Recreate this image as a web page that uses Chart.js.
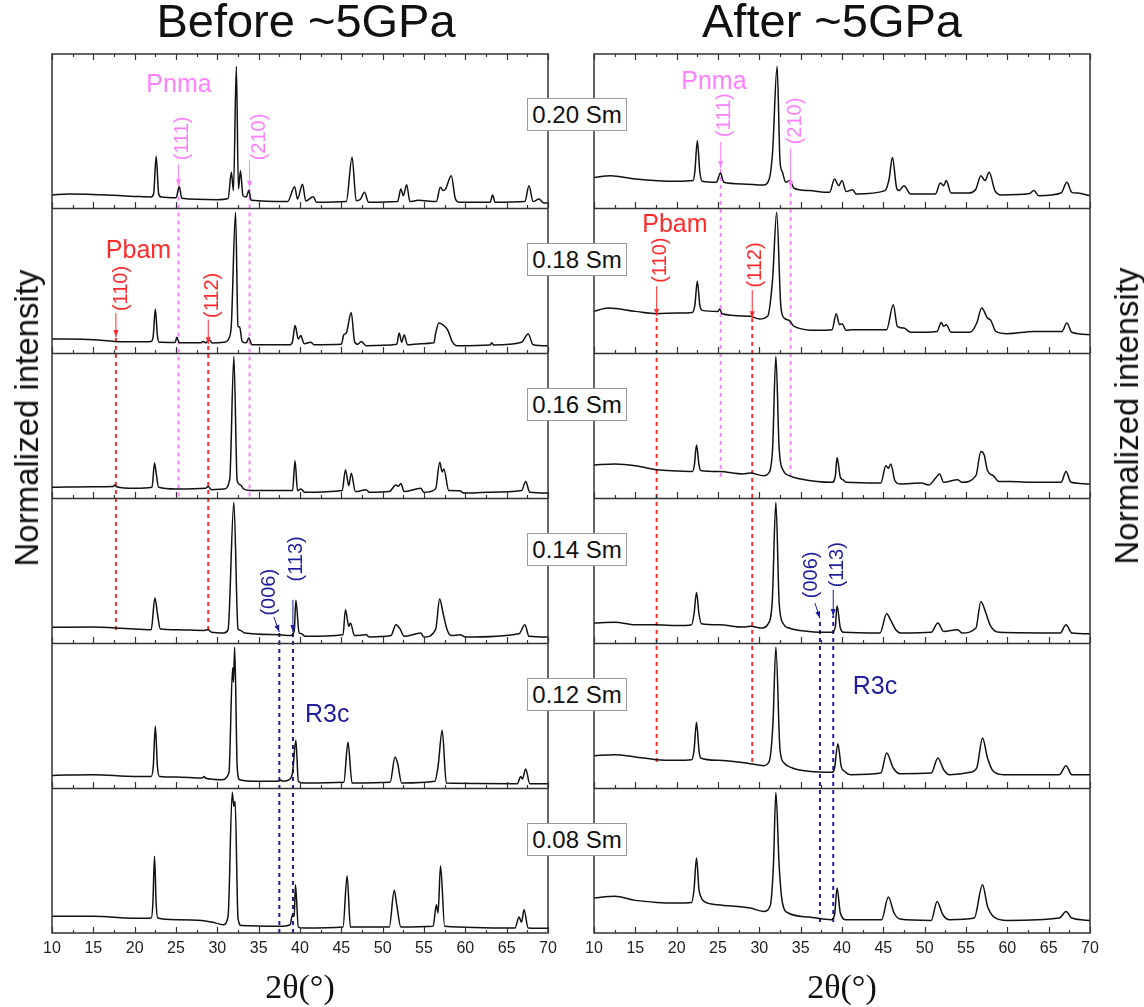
<!DOCTYPE html>
<html>
<head>
<meta charset="utf-8">
<script src="https://cdn.jsdelivr.net/npm/chart.js@4.4.0/dist/chart.umd.min.js"></script>
<style>
  body { margin: 0; background: #fff; width: 1144px; height: 1007px; position: relative; overflow: hidden;
         font-family: 'Liberation Sans', Arial, sans-serif; color: #111; }
  canvas { position: absolute; top: 0; }
  #before { left: 0; }
  #after { left: 572px; }
  .title { position: absolute; top: -3px; font-size: 47px; line-height: 47px; white-space: nowrap; transform: translateX(-50%); }
  .ytitle { position: absolute; font-size: 33px; white-space: nowrap; transform: translate(-50%, -50%) rotate(-90deg); }
  .xtitle { position: absolute; font-family: 'Liberation Serif', 'DejaVu Serif', serif; font-size: 34px; white-space: nowrap; transform: translate(-50%, -50%); }
  .box { position: absolute; left: 527px; width: 100px; height: 33px; box-sizing: border-box; border: 1px solid #9a9a9a;
         background: #fff; font-size: 24px; line-height: 31px; text-align: center; white-space: nowrap; z-index: 2; }
</style>
</head>
<body>
<canvas id="before" width="572" height="1007"></canvas>
<canvas id="after" width="572" height="1007"></canvas>
<div class="title" style="left:306px">Before ~5GPa</div>
<div class="title" style="left:832px">After ~5GPa</div>
<div class="ytitle" style="left:27px; top:418px">Normalized intensity</div>
<div class="ytitle" style="left:1127px; top:416px">Normalized intensity</div>
<div class="xtitle" style="left:300px; top:987px">2θ(°)</div>
<div class="xtitle" style="left:842px; top:987px">2θ(°)</div>
<div id="boxes"></div>

<script>
// sample labels, top band first
const samples = ['0.20 Sm', '0.18 Sm', '0.16 Sm', '0.14 Sm', '0.12 Sm', '0.08 Sm'];
const xTicks = [10, 15, 20, 25, 30, 35, 40, 45, 50, 55, 60, 65, 70];

// patterns: [2theta, intensity within its band]
const before020 = [[10,0.09],[12,0.097],[20,0.08],[22,0.076],[22.3,0.1],[22.6,0.356],[22.9,0.1],[23.2,0.076],[25,0.071],[25.4,0.149],[25.7,0.067],[30,0.057],[31.3,0.065],[31.7,0.246],[31.95,0.12],[32.3,0.977],[32.55,0.131],[32.8,0.257],[33.1,0.085],[33.5,0.075],[33.8,0.12],[34.1,0.053],[38.5,0.044],[39.35,0.147],[39.7,0.062],[40.3,0.163],[40.7,0.048],[41.6,0.078],[42,0.039],[45.6,0.044],[46.3,0.35],[46.8,0.05],[47.3,0.06],[47.8,0.108],[48.3,0.039],[51.8,0.044],[52.2,0.131],[52.5,0.085],[52.9,0.161],[53.3,0.044],[54.3,0.053],[56.5,0.044],[56.97,0.143],[57.3,0.12],[57.6,0.13],[58.3,0.223],[58.8,0.062],[59.3,0.039],[63,0.04],[63.3,0.09],[63.6,0.039],[67.2,0.044],[67.7,0.154],[68.2,0.044],[68.9,0.062],[69.5,0.034],[70,0.034]];
const before018 = [[10,0.097],[15,0.092],[17.6,0.08],[20,0.078],[22,0.08],[22.25,0.12],[22.5,0.303],[22.75,0.12],[23,0.074],[24.9,0.073],[25.1,0.108],[25.4,0.07],[28,0.07],[28.3,0.08],[28.6,0.07],[29,0.092],[29.4,0.069],[30.8,0.074],[31.4,0.1],[31.7,0.2],[32.2,0.97],[32.5,0.184],[32.7,0.179],[33,0.08],[33.5,0.07],[33.8,0.103],[34.2,0.057],[38.8,0.057],[39.1,0.08],[39.4,0.189],[39.8,0.097],[40.1,0.12],[40.5,0.064],[41.3,0.074],[41.7,0.057],[45,0.06],[45.3,0.126],[45.6,0.138],[46.2,0.28],[46.6,0.08],[47,0.06],[47.4,0.08],[48,0.05],[51.7,0.06],[52,0.138],[52.3,0.074],[52.6,0.124],[53,0.057],[54.6,0.064],[56.2,0.07],[56.4,0.133],[56.8,0.207],[57.5,0.184],[57.9,0.154],[58.4,0.08],[59,0.05],[63,0.055],[63.2,0.07],[63.4,0.055],[66.8,0.074],[67.6,0.131],[68.2,0.057],[70,0.05]];
const before016 = [[10,0.074],[15,0.078],[17.4,0.08],[17.6,0.09],[17.8,0.078],[20,0.067],[22.1,0.074],[22.4,0.241],[22.6,0.172],[22.9,0.074],[25,0.062],[28.6,0.067],[28.9,0.08],[29.3,0.057],[30.8,0.062],[31.5,0.13],[32,0.977],[32.4,0.12],[32.8,0.09],[33.2,0.062],[34,0.051],[39.1,0.051],[39.4,0.257],[39.7,0.051],[40.1,0.062],[40.6,0.039],[45.1,0.051],[45.5,0.195],[45.9,0.085],[46.2,0.17],[46.7,0.044],[48,0.057],[48.4,0.039],[50.8,0.044],[51.6,0.09],[51.9,0.081],[52.2,0.1],[52.6,0.044],[54.6,0.067],[55,0.039],[56.4,0.062],[56.9,0.246],[57.2,0.18],[57.4,0.2],[58,0.051],[59.3,0.05],[59.8,0.034],[62.9,0.039],[66.8,0.051],[67.3,0.113],[67.8,0.039],[70,0.034]];
const before014 = [[10,0.108],[15,0.11],[17.6,0.104],[20,0.097],[22,0.092],[22.45,0.31],[22.8,0.184],[23.1,0.097],[25,0.092],[28.4,0.087],[28.9,0.092],[29.3,0.074],[30.8,0.069],[31.3,0.092],[32,0.97],[32.5,0.097],[32.8,0.087],[33.3,0.069],[37.5,0.057],[38.8,0.051],[39.3,0.08],[39.5,0.294],[39.9,0.069],[40.2,0.064],[40.6,0.046],[45.2,0.057],[45.5,0.23],[45.9,0.115],[46.1,0.138],[46.6,0.051],[48,0.057],[48.4,0.041],[51,0.051],[51.6,0.126],[52.1,0.097],[52.6,0.046],[54.6,0.069],[55,0.041],[56.4,0.092],[56.9,0.303],[57.3,0.207],[57.8,0.092],[58.3,0.051],[59.4,0.057],[60,0.041],[66.5,0.064],[67.2,0.126],[67.7,0.046],[70,0.041]];
const before012 = [[10,0.087],[15,0.092],[20,0.08],[22,0.08],[22.25,0.15],[22.5,0.425],[22.75,0.15],[23,0.08],[25,0.076],[28.2,0.069],[28.4,0.08],[28.6,0.067],[30.5,0.057],[31.4,0.103],[31.85,0.83],[31.95,0.73],[32.1,0.97],[32.4,0.15],[32.7,0.057],[35,0.046],[37.5,0.048],[37.7,0.055],[37.9,0.046],[38.8,0.062],[39.1,0.108],[39.5,0.329],[39.8,0.046],[40.5,0.034],[45.3,0.039],[45.8,0.315],[46.3,0.034],[50.9,0.039],[51.5,0.214],[51.8,0.172],[52.3,0.034],[56.3,0.046],[56.7,0.149],[57.2,0.398],[57.7,0.034],[66.3,0.03],[66.7,0.08],[66.9,0.062],[67.3,0.131],[67.8,0.03],[70,0.03]];
const before008 = [[10,0.115],[15,0.115],[20,0.101],[22,0.103],[22.2,0.2],[22.4,0.529],[22.6,0.2],[22.8,0.103],[25,0.092],[28.1,0.087],[29.5,0.074],[30.7,0.057],[31.3,0.115],[31.8,0.97],[32,0.874],[32.15,0.908],[32.5,0.103],[32.9,0.051],[37.5,0.046],[38.8,0.057],[39.1,0.126],[39.3,0.115],[39.45,0.333],[39.8,0.041],[40.5,0.034],[45.2,0.041],[45.7,0.395],[46.1,0.041],[50.8,0.041],[51.4,0.294],[51.7,0.195],[52.2,0.041],[56.1,0.046],[56.5,0.195],[56.7,0.138],[57,0.464],[57.5,0.046],[66,0.034],[66.5,0.11],[66.8,0.074],[67.1,0.161],[67.6,0.034],[70,0.032]];

const after020 = [[10,0.211],[12,0.223],[15,0.2],[20,0.184],[22,0.189],[22.2,0.25],[22.5,0.464],[22.8,0.25],[23.1,0.184],[24.8,0.177],[25.3,0.241],[25.7,0.177],[28,0.166],[30.5,0.159],[31.2,0.2],[31.6,0.384],[32.15,0.977],[32.5,0.326],[32.8,0.246],[33.2,0.177],[33.7,0.189],[34.2,0.136],[36,0.12],[38.5,0.108],[39.1,0.2],[39.6,0.154],[40,0.189],[40.5,0.113],[41.3,0.126],[41.7,0.097],[45.2,0.12],[45.7,0.2],[46.1,0.349],[46.6,0.14],[46.9,0.12],[47.5,0.154],[48.3,0.097],[51.3,0.097],[51.9,0.172],[52.3,0.154],[52.6,0.189],[53.2,0.103],[55.3,0.103],[56.2,0.131],[56.8,0.223],[57.3,0.189],[57.8,0.246],[58.5,0.12],[59.3,0.09],[62.7,0.1],[63.2,0.12],[63.8,0.085],[66.5,0.103],[67.2,0.177],[67.8,0.108],[68.5,0.103],[70,0.085]];
const after018 = [[10,0.287],[11.7,0.31],[15,0.287],[17.6,0.271],[20,0.276],[21.9,0.28],[22.2,0.33],[22.5,0.494],[22.8,0.33],[23.1,0.294],[25,0.287],[25.2,0.303],[25.5,0.271],[28.9,0.253],[30,0.234],[31,0.253],[31.6,0.506],[32.1,0.97],[32.6,0.322],[33,0.241],[33.6,0.225],[34.2,0.184],[37,0.156],[38.8,0.161],[39.3,0.271],[39.7,0.195],[40,0.202],[40.5,0.156],[41.2,0.161],[45.4,0.161],[46.2,0.333],[46.7,0.184],[47.5,0.172],[48.3,0.143],[51.5,0.149],[52,0.211],[52.3,0.184],[52.6,0.195],[53.2,0.143],[55.5,0.143],[56.3,0.207],[56.9,0.31],[57.6,0.241],[58,0.225],[58.6,0.149],[60,0.133],[63.2,0.149],[66.6,0.149],[67.2,0.207],[67.8,0.143],[70,0.126]];
const after016 = [[10,0.228],[12.5,0.234],[15,0.223],[17.6,0.195],[20,0.186],[21.9,0.182],[22.15,0.23],[22.4,0.366],[22.7,0.23],[22.9,0.189],[25.2,0.182],[28,0.166],[28.9,0.172],[30.5,0.154],[31.2,0.177],[31.6,0.338],[32,0.977],[32.4,0.338],[32.9,0.189],[33.6,0.154],[35,0.131],[38.8,0.108],[39.2,0.154],[39.4,0.28],[39.8,0.143],[40.1,0.126],[40.5,0.108],[44.7,0.103],[45.3,0.223],[45.6,0.205],[45.9,0.234],[46.4,0.119],[47,0.097],[49.6,0.103],[50.5,0.09],[51.4,0.143],[51.8,0.166],[52.3,0.108],[54,0.126],[54.5,0.108],[56.2,0.154],[56.8,0.32],[57.2,0.297],[57.6,0.189],[58.3,0.154],[59,0.113],[60.3,0.113],[63.4,0.108],[66.5,0.108],[67.1,0.182],[67.7,0.108],[70,0.097]];
const after014 = [[10,0.138],[12.5,0.143],[15,0.126],[17.6,0.126],[20,0.12],[21.8,0.126],[22.1,0.2],[22.4,0.349],[22.7,0.2],[23,0.133],[25.2,0.126],[28,0.11],[28.9,0.115],[30.4,0.103],[31,0.126],[31.55,0.276],[32,0.97],[32.4,0.276],[32.9,0.133],[33.6,0.103],[36,0.08],[38.8,0.074],[39.2,0.115],[39.4,0.257],[39.8,0.103],[40.2,0.074],[44.6,0.069],[45.4,0.202],[45.9,0.156],[46.5,0.092],[47.2,0.069],[50.8,0.074],[51.6,0.138],[52.3,0.08],[54,0.092],[54.5,0.069],[56.2,0.103],[56.8,0.287],[57.4,0.207],[58,0.115],[59,0.074],[66.4,0.069],[67.1,0.126],[67.8,0.069],[70,0.064]];
const after012 = [[10,0.223],[12.5,0.23],[15,0.214],[17.6,0.195],[20,0.191],[21.8,0.195],[22.1,0.26],[22.4,0.453],[22.7,0.26],[22.9,0.207],[25,0.191],[28.9,0.168],[30.5,0.154],[31.2,0.184],[31.65,0.448],[32,0.972],[32.5,0.264],[33,0.172],[34,0.138],[36,0.115],[38.8,0.108],[39.1,0.138],[39.5,0.306],[39.9,0.149],[40.3,0.115],[41,0.092],[44.7,0.103],[45.4,0.241],[46.2,0.138],[47,0.099],[50.8,0.103],[51.6,0.207],[52.3,0.126],[53,0.092],[55.5,0.108],[56.3,0.138],[57,0.345],[57.6,0.207],[58.3,0.115],[59.5,0.092],[66.3,0.092],[67.1,0.154],[67.8,0.092],[70,0.092]];
const after008 = [[10,0.241],[12.5,0.253],[15,0.225],[17.6,0.211],[20,0.207],[21.8,0.211],[22.1,0.3],[22.4,0.517],[22.7,0.3],[22.9,0.253],[23.3,0.218],[25,0.195],[28.9,0.172],[30.5,0.149],[31.3,0.184],[31.7,0.46],[32,0.97],[32.4,0.46],[32.8,0.207],[33.5,0.138],[36,0.11],[38.7,0.092],[39.1,0.126],[39.4,0.31],[39.8,0.138],[40.5,0.092],[44.8,0.092],[45.6,0.248],[46.3,0.138],[47,0.097],[50.8,0.087],[51.5,0.218],[52.2,0.126],[53,0.092],[56,0.103],[57,0.333],[57.6,0.184],[58.4,0.11],[60,0.087],[66.3,0.103],[67.1,0.149],[67.8,0.103],[70,0.087]];

// reflection markers: 2theta and the band-stack span [from, to] of the dashed guide
const beforeRefs = [
  { phase: 'Pnma', x: 25.3, span: [3.01, 5.15] },
  { phase: 'Pnma', x: 33.9, span: [3.01, 5.14] },
  { phase: 'Pbam', x: 17.73, span: [2.09, 4.11] },
  { phase: 'Pbam', x: 28.9, span: [2.09, 4.06] },
  { phase: 'R3c', x: 37.5, span: [0, 2.076] },
  { phase: 'R3c', x: 39.15, span: [0, 2.076] }
];
const afterRefs = [
  { phase: 'Pnma', x: 25.32, span: [3.145, 5.276] },
  { phase: 'Pnma', x: 33.78, span: [3.145, 5.14] },
  { phase: 'Pbam', x: 17.58, span: [1.18, 4.255] },
  { phase: 'Pbam', x: 29.14, span: [1.18, 4.24] },
  { phase: 'R3c', x: 37.33, span: [0.076, 2.17] },
  { phase: 'R3c', x: 38.94, span: [0.076, 2.186] }
];

// text annotations (in axis units)
const beforeNotes = [
  { phase: 'Pnma', text: 'Pnma', x: 25.36, y: 5.85 },
  { phase: 'Pbam', text: 'Pbam', x: 20.46, y: 4.70 },
  { phase: 'R3c', text: 'R3c', x: 43.3, y: 1.50 },
  { phase: 'Pnma', text: '(111)', x: 25.84, y: 5.48, from: [25.3, 5.30], to: [25.3, 5.15] },
  { phase: 'Pnma', text: '(210)', x: 35.13, y: 5.49, from: [33.9, 5.33], to: [33.9, 5.14] },
  { phase: 'Pbam', text: '(110)', x: 18.36, y: 4.445, from: [17.73, 4.276], to: [17.73, 4.11] },
  { phase: 'Pbam', text: '(112)', x: 29.37, y: 4.397, from: [28.9, 4.23], to: [28.9, 4.06] },
  { phase: 'R3c', text: '(006)', x: 36.36, y: 2.35, from: [36.84, 2.18], to: [37.48, 2.076] },
  { phase: 'R3c', text: '(113)', x: 39.58, y: 2.58, from: [39.14, 2.297], to: [39.14, 2.076] }
];
const afterNotes = [
  { phase: 'Pnma', text: 'Pnma', x: 24.51, y: 5.87 },
  { phase: 'Pbam', text: 'Pbam', x: 19.79, y: 4.88 },
  { phase: 'R3c', text: 'R3c', x: 43.98, y: 1.697 },
  { phase: 'Pnma', text: '(111)', x: 25.74, y: 5.64, from: [25.32, 5.455], to: [25.32, 5.276] },
  { phase: 'Pnma', text: '(210)', x: 34.4, y: 5.60, from: [33.78, 5.41], to: [33.78, 5.14] },
  { phase: 'Pbam', text: '(110)', x: 18.08, y: 4.64, from: [17.58, 4.46], to: [17.58, 4.255] },
  { phase: 'Pbam', text: '(112)', x: 29.5, y: 4.607, from: [29.14, 4.434], to: [29.14, 4.24] },
  { phase: 'R3c', text: '(006)', x: 36.32, y: 2.47, from: [36.72, 2.276], to: [37.33, 2.17] },
  { phase: 'R3c', text: '(113)', x: 39.5, y: 2.54, from: [38.94, 2.366], to: [38.94, 2.186] }
];

const phaseColors = { Pnma: '#ff80ff', Pbam: '#ff2a2a', R3c: '#1f1f9c' };
const FONT = "'Liberation Sans', Arial, sans-serif";
const YMAX = 6.062;   // top band is a bit taller than the others

// frame, band separators and inward ticks
const framePlugin = {
  id: 'frame',
  afterDatasetsDraw(chart) {
    const { ctx, chartArea: a, scales: { x, y } } = chart;
    ctx.save();
    ctx.strokeStyle = '#333';
    ctx.lineWidth = 1.5;
    ctx.strokeRect(a.left, a.top, a.right - a.left, a.bottom - a.top);
    ctx.beginPath();
    for (let b = 1; b < samples.length; b++) {
      const py = Math.round(y.getPixelForValue(b)) + 0.5;
      ctx.moveTo(a.left, py);
      ctx.lineTo(a.right, py);
    }
    ctx.stroke();
    ctx.lineWidth = 1.2;
    ctx.beginPath();
    const tickVals = [];
    xTicks.forEach((v, i) => {
      tickVals.push([v, 6]);
      if (i < xTicks.length - 1) tickVals.push([(v + xTicks[i + 1]) / 2, 3]);
    });
    tickVals.forEach(([v, len]) => {
      const px = Math.round(x.getPixelForValue(v)) + 0.5;
      for (let b = 0; b < samples.length; b++) {
        const py = y.getPixelForValue(b);
        ctx.moveTo(px, py);
        ctx.lineTo(px, py - len);
      }
      ctx.moveTo(px, a.top);
      ctx.lineTo(px, a.top + len);
    });
    ctx.stroke();
    ctx.restore();
  },
  afterDraw(chart) {
    const { ctx, scales: { x, y } } = chart;
    const notes = chart.options.plugins.frame.notes;
    ctx.save();
    notes.forEach(n => {
      const col = phaseColors[n.phase];
      ctx.fillStyle = col;
      ctx.strokeStyle = col;
      const px = x.getPixelForValue(n.x), py = y.getPixelForValue(n.y);
      ctx.textAlign = 'center';
      ctx.textBaseline = 'middle';
      if (!n.from) {
        ctx.font = `25px ${FONT}`;
        ctx.fillText(n.text, px, py);
        return;
      }
      ctx.font = `20px ${FONT}`;
      ctx.save();
      ctx.translate(px, py);
      ctx.rotate(-Math.PI / 2);
      ctx.fillText(n.text, 0, 0);
      ctx.restore();
      const x1 = x.getPixelForValue(n.from[0]), y1 = y.getPixelForValue(n.from[1]);
      const x2 = x.getPixelForValue(n.to[0]), y2 = y.getPixelForValue(n.to[1]);
      ctx.lineWidth = 1;
      ctx.beginPath();
      ctx.moveTo(x1, y1);
      ctx.lineTo(x2, y2);
      ctx.stroke();
      const ang = Math.atan2(y2 - y1, x2 - x1);
      ctx.beginPath();
      ctx.moveTo(x2, y2);
      ctx.lineTo(x2 - 7 * Math.cos(ang) + 2.5 * Math.sin(ang), y2 - 7 * Math.sin(ang) - 2.5 * Math.cos(ang));
      ctx.lineTo(x2 - 7 * Math.cos(ang) - 2.5 * Math.sin(ang), y2 - 7 * Math.sin(ang) + 2.5 * Math.cos(ang));
      ctx.closePath();
      ctx.fill();
    });
    ctx.restore();
  }
};

function buildPanel(canvasId, spectra, refs, notes, padLeft, padRight) {
  const datasets = spectra.map((pts, i) => ({
    data: pts.map(([tt, v]) => ({ x: tt, y: (samples.length - 1 - i) + v })),
    borderColor: '#111',
    borderWidth: 1.5,
    pointRadius: 0,
    cubicInterpolationMode: 'monotone',
    order: 1
  }));
  refs.forEach(r => datasets.push({
    data: [{ x: r.x, y: r.span[0] }, { x: r.x, y: r.span[1] }],
    borderColor: phaseColors[r.phase],
    borderWidth: 2,
    borderDash: [4, 4],
    pointRadius: 0,
    order: 2
  }));

  return new Chart(document.getElementById(canvasId), {
    type: 'line',
    data: { datasets },
    options: {
      responsive: false,
      animation: false,
      events: [],
      layout: { padding: { left: padLeft, right: padRight, top: 54, bottom: 44 } },
      scales: {
        x: {
          type: 'linear',
          min: 10,
          max: 70,
          grid: { display: false, drawTicks: false },
          border: { display: false },
          afterBuildTicks: axis => { axis.ticks = xTicks.map(v => ({ value: v })); },
          afterFit: axis => { axis.height = 30; },
          ticks: { font: { family: FONT, size: 16 }, color: '#222', padding: 6, maxRotation: 0 }
        },
        y: { type: 'linear', min: 0, max: YMAX, display: false }
      },
      plugins: {
        legend: { display: false },
        tooltip: { enabled: false },
        frame: { notes }
      }
    },
    plugins: [framePlugin]
  });
}

const beforeChart = buildPanel('before',
  [before020, before018, before016, before014, before012, before008], beforeRefs, beforeNotes, 52, 24);
buildPanel('after',
  [after020, after018, after016, after014, after012, after008], afterRefs, afterNotes, 22, 54);

// sample tags sit in the gap between the panels, level with each band
const yScale = beforeChart.scales.y;
const boxes = document.getElementById('boxes');
samples.forEach((s, i) => {
  const d = document.createElement('div');
  d.className = 'box';
  d.textContent = s;
  d.style.top = (yScale.getPixelForValue(samples.length - 1 - i + 0.645) - 16.5) + 'px';
  boxes.appendChild(d);
});
</script>
</body>
</html>
